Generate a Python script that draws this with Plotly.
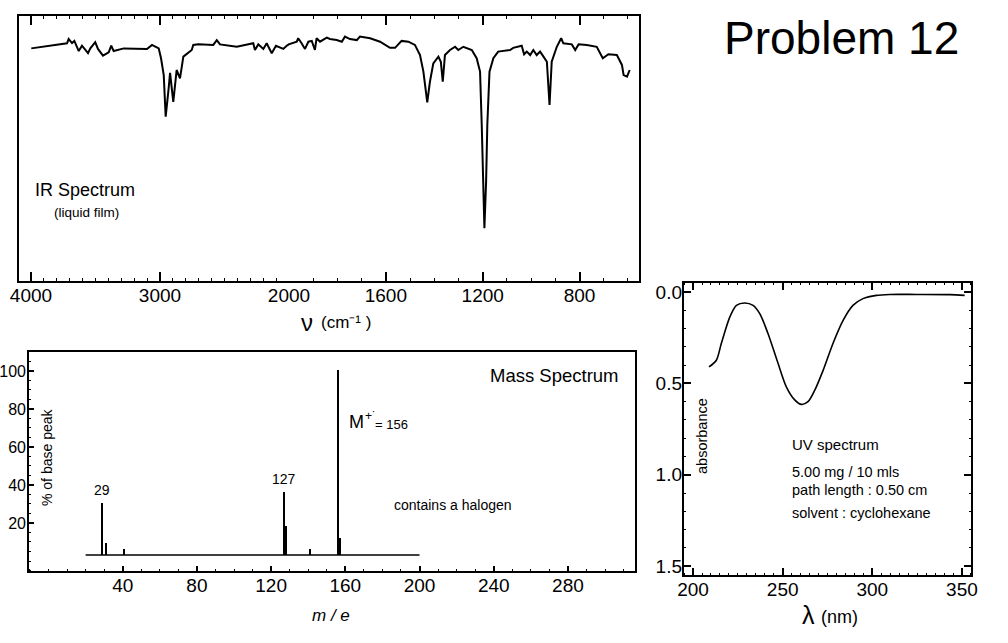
import plotly.graph_objects as go

W, H = 1008, 643
FONT = "Liberation Sans, Arial, sans-serif"

# ---------------- data ----------------
ir_wavenumber = [3998, 3721, 3708, 3682, 3664, 3630, 3605, 3558, 3540, 3502, 3481, 3442, 3398, 3378, 3359,
                 3281, 3101, 3062, 3010, 2992, 2971, 2956, 2933, 2922, 2897, 2871, 2845, 2819, 2754, 2742,
                 2703, 2587, 2560, 2535, 2405, 2302, 2277, 2264, 2238, 2199, 2173, 2134, 2101, 2044, 2018,
                 1968, 1962, 1948, 1934, 1920, 1906, 1893, 1886, 1872, 1844, 1831, 1803, 1782, 1769, 1748,
                 1720, 1707, 1665, 1624, 1583, 1562, 1535, 1507, 1480, 1459, 1445, 1429, 1418, 1404, 1383,
                 1373, 1365, 1356, 1335, 1314, 1301, 1280, 1245, 1225, 1211, 1204, 1197, 1193, 1186, 1181,
                 1172, 1156, 1136, 1087, 1074, 1039, 1029, 1018, 1004, 991, 977, 963, 949, 935, 924,
                 915, 894, 876, 867, 832, 818, 804, 770, 729, 704, 681, 646, 625, 618, 604, 593]
ir_transmittance = [87.5, 89.4, 91.0, 89.5, 90.3, 86.5, 88.5, 85.7, 87.5, 89.8, 87.3, 84.8, 86.0, 88.5, 86.5,
                    87.5, 87.3, 88.8, 87.5, 83.8, 77.5, 61.9, 72.5, 78.3, 67.5, 79.4, 76.3, 84.4, 86.9, 88.8,
                    89.0, 88.8, 90.6, 89.0, 88.1, 89.0, 89.4, 86.9, 89.0, 87.3, 89.4, 85.7, 88.5, 87.3, 88.5,
                    90.0, 91.3, 89.4, 87.3, 90.0, 90.3, 86.9, 91.3, 90.0, 91.5, 91.0, 90.6, 90.0, 91.9, 91.0,
                    90.6, 91.9, 91.3, 90.0, 87.7, 87.7, 90.3, 90.0, 88.8, 85.0, 78.8, 67.3, 75.0, 81.9, 84.4,
                    82.5, 75.0, 85.0, 86.9, 88.1, 86.9, 88.1, 86.9, 83.8, 78.8, 58.8, 37.6, 20.1, 37.6, 58.8,
                    78.8, 83.8, 86.3, 86.9, 87.7, 88.5, 85.3, 86.3, 85.0, 86.9, 85.0, 86.3, 84.4, 82.5, 66.3,
                    82.5, 88.1, 91.3, 89.4, 89.0, 86.9, 89.0, 88.8, 88.1, 83.8, 85.3, 85.0, 81.3, 77.5, 76.9, 79.4]
ir_ticks_left = [4000, 3000]
ir_ticks_right = [2000, 1600, 1200, 800]

ms_mz = [29, 31, 41, 127, 128, 141, 156, 157]
ms_top = [30.5, 9.5, 6.3, 36.5, 18.4, 6.2, 100.5, 12.3]
ms_baseline = 3.2
ms_baseline_range = [20, 200]
ms_xticks = [40, 80, 120, 160, 200, 240, 280]
ms_xticks_unlabelled = [20, 60, 100, 140, 180, 220, 260, 300]
ms_yticks = [20, 40, 60, 80, 100]
ms_peak_labels = {29: "29", 127: "127"}

uv_lambda = [208.9, 213.0, 215.8, 220.5, 224.2, 228.8, 233.5, 237.2, 241.8, 247.4, 252.1, 256.7, 260.5,
             264.1, 267.9, 272.5, 278.1, 283.7, 289.2, 294.8, 302.3, 309.7, 324.6, 343.2, 351.5]
uv_absorbance = [0.41, 0.373, 0.28, 0.137, 0.073, 0.06, 0.073, 0.118, 0.227, 0.39, 0.52, 0.59, 0.615,
                 0.60, 0.537, 0.43, 0.28, 0.155, 0.073, 0.036, 0.018, 0.013, 0.013, 0.014, 0.018]
uv_xticks = [200, 250, 300, 350]
uv_yticks = [0.0, 0.5, 1.0, 1.5]
uv_yticktext = ["0.0", "0.5", "1.0", "1.5"]


def px(x):
    return x / W


def py(y):
    return 1 - y / H


fig = go.Figure()

# ---------------- IR (two linear pieces: 4000-2000 and 2000-600) ----------------
for xa in ["x", "x2"]:
    fig.add_trace(go.Scatter(x=ir_wavenumber, y=ir_transmittance, xaxis=xa, yaxis="y",
                             mode="lines", line=dict(color="black", width=2), showlegend=False,
                             hoverinfo="skip"))

# ---------------- Mass spectrum ----------------
fig.add_trace(go.Scatter(x=ms_baseline_range, y=[ms_baseline, ms_baseline], xaxis="x3", yaxis="y3",
                         mode="lines", line=dict(color="black", width=1.5), showlegend=False))
fig.add_trace(go.Bar(x=ms_mz, y=[t - ms_baseline for t in ms_top], base=ms_baseline, width=0.9,
                     marker=dict(color="black", line=dict(width=0)), xaxis="x3", yaxis="y3",
                     showlegend=False))

# ---------------- UV ----------------
fig.add_trace(go.Scatter(x=uv_lambda, y=uv_absorbance, xaxis="x4", yaxis="y4", mode="lines",
                         line=dict(color="black", width=1.6, shape="spline", smoothing=0.8),
                         showlegend=False))

tickfont = dict(family=FONT, size=19, color="black")
common = dict(ticks="inside", showline=False, showgrid=False, zeroline=False, tickcolor="black",
              tickwidth=1.5, automargin=False)


def minor(dt, ln=3):
    return dict(dtick=dt, ticks="inside", ticklen=ln, tickcolor="black", tickwidth=1.2, showgrid=False)


layout = dict(
    template="none",
    width=W, height=H, margin=dict(l=0, r=0, t=0, b=0, pad=0),
    paper_bgcolor="white", plot_bgcolor="rgba(0,0,0,0)", bargap=0,
    font=dict(family=FONT, color="black"),
    xaxis=dict(domain=[px(18), px(289)], range=[4100.8, 2000], anchor="y", tickvals=ir_ticks_left,
               ticklen=10, mirror="ticks", minor=minor(100, 4), tickfont=tickfont, **common),
    xaxis2=dict(domain=[px(289), px(640)], range=[2000, 550.4], anchor="y", tickvals=ir_ticks_right,
                ticklen=10, mirror="ticks", minor=minor(100, 4), tickfont=tickfont, **common),
    yaxis=dict(domain=[py(282), py(15)], range=[0, 100], anchor="x", visible=False),
    xaxis3=dict(domain=[px(28), px(636)], range=[-11.05, 316.7], anchor="y3", tickvals=ms_xticks,
                ticklen=6, minor=minor(10, 3), tickfont=tickfont, **common),
    xaxis5=dict(domain=[px(28), px(636)], range=[-11.05, 316.7], anchor="y3", overlaying="x3",
                tickvals=ms_xticks_unlabelled, showticklabels=False, ticklen=6, **common),
    yaxis3=dict(domain=[py(572), py(351)], range=[-5.79, 110.5], anchor="x3", tickvals=ms_yticks,
                ticklen=6, minor=minor(5, 3), ticklabelstandoff=1,
                tickfont=dict(family=FONT, size=16, color="black"), **common),
    xaxis4=dict(domain=[px(683), px(972)], range=[194.4, 355.6], anchor="y4", tickvals=uv_xticks,
                ticklen=8, mirror="ticks", minor=minor(5, 3), tickfont=tickfont, **common),
    yaxis4=dict(domain=[py(576), py(282)], range=[1.554, -0.055], anchor="x4", tickvals=uv_yticks,
                ticktext=uv_yticktext, ticklen=8, mirror="ticks", minor=minor(0.1, 3),
                tickfont=tickfont, **common),
)
fig.update_layout(**layout)

# frames
for (x0, y0, x1, y1) in [(18, 15, 640, 282), (28, 351, 636, 572), (683, 282, 972, 576)]:
    fig.add_shape(type="rect", xref="paper", yref="paper", x0=px(x0), x1=px(x1), y0=py(y1), y1=py(y0),
                  line=dict(color="black", width=2), fillcolor="rgba(0,0,0,0)")


def note(text, x, y, size, xanchor="left", angle=0, style="normal"):
    fig.add_annotation(text=text, x=px(x), y=py(y), xref="paper", yref="paper", showarrow=False,
                       xanchor=xanchor, yanchor="middle", textangle=angle,
                       font=dict(family=FONT, size=size, color="black", style=style))


note("Problem 12", 722, 38, 46)
note("IR Spectrum", 33, 190, 18)
note("(liquid film)", 52, 212, 13.5)
note("ν", 307, 322, 24, "center")
note("(cm⁻¹ )", 319, 322, 17)

note("Mass Spectrum", 488, 375, 18.5)
for mz, lab in ms_peak_labels.items():
    top = ms_top[ms_mz.index(mz)]
    fig.add_annotation(text=lab, x=mz, y=top, xref="x3", yref="y3", showarrow=False,
                       yanchor="bottom", yshift=3, font=dict(family=FONT, size=14, color="black"))
note("M", 347, 422, 18)
note("+˙", 363, 416, 12)
note("= 156", 373, 424, 13)
note("contains a halogen", 392, 505, 14)
note("% of base peak", 47, 457, 14, "center", -90)
note("m / e", 331, 615, 17, "center", style="italic")

note("absorbance", 702, 436, 14.5, "center", -90)
note("UV spectrum", 790, 444, 15)
note("5.00 mg / 10 mls", 790, 472, 14.5)
note("path length : 0.50 cm", 790, 490, 14.5)
note("solvent : cyclohexane", 790, 513, 14.5)
note("λ", 808, 615, 25, "center")
note("(nm)", 819, 617, 18)

fig.write_html("out.html", config={"displayModeBar": False},
               post_script="document.body.style.margin='0';")
